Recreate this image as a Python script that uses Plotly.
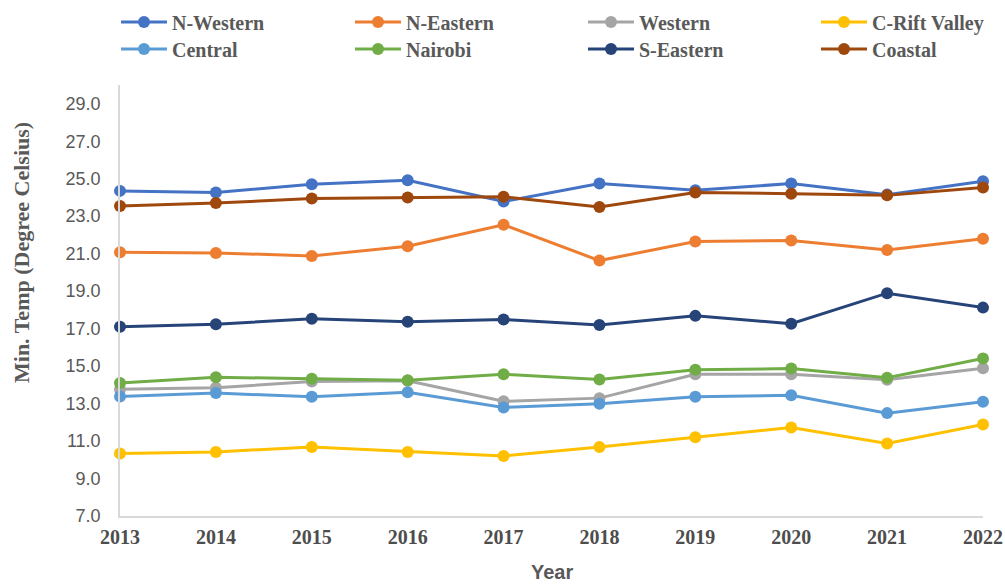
import plotly.graph_objects as go

years = [2013, 2014, 2015, 2016, 2017, 2018, 2019, 2020, 2021, 2022]

n_western = [24.35, 24.26, 24.70, 24.92, 23.78, 24.74, 24.38, 24.74, 24.15, 24.86]
n_eastern = [21.07, 21.04, 20.88, 21.40, 22.54, 20.63, 21.65, 21.70, 21.20, 21.79]
western = [13.76, 13.84, 14.18, 14.22, 13.12, 13.29, 14.56, 14.56, 14.27, 14.88]
c_rift_valley = [10.33, 10.42, 10.68, 10.42, 10.20, 10.68, 11.20, 11.72, 10.87, 11.88]
central = [13.38, 13.56, 13.36, 13.60, 12.79, 12.99, 13.36, 13.44, 12.49, 13.10]
nairobi = [14.10, 14.40, 14.33, 14.24, 14.57, 14.28, 14.80, 14.87, 14.38, 15.40]
s_eastern = [17.10, 17.23, 17.53, 17.37, 17.48, 17.19, 17.68, 17.26, 18.89, 18.12]
coastal = [23.54, 23.70, 23.94, 24.00, 24.04, 23.49, 24.26, 24.20, 24.11, 24.53]

y_ticks = [7, 9, 11, 13, 15, 17, 19, 21, 23, 25, 27, 29]

names = ["N-Western", "N-Eastern", "Western", "C-Rift Valley",
         "Central", "Nairobi", "S-Eastern", "Coastal"]
values = [n_western, n_eastern, western, c_rift_valley,
          central, nairobi, s_eastern, coastal]
colors = ["#4472C4", "#ED7D31", "#A5A5A5", "#FFC000",
          "#5B9BD5", "#70AD47", "#264478", "#9E480E"]

W, H = 1005, 584
L, R, T, B = 120, 22, 85, 68
plot_w = W - L - R
plot_h = H - T - B

# legend entries sit in a 4 x 2 grid above the plot (pixel positions)
col_px = [116, 350, 583, 816]
row_px = [22, 49]

legend_font = dict(family="Liberation Serif", size=20, color="#595959", weight="bold")

fig = go.Figure()
legends = {}

for i, (name, vals, color) in enumerate(zip(names, values, colors)):
    key = "legend" if i == 0 else f"legend{i + 1}"
    fig.add_trace(go.Scatter(
        x=years, y=vals,
        mode="lines+markers",
        name=name,
        legend=key,
        line=dict(color=color, width=3),
        marker=dict(color=color, size=12),
        cliponaxis=False,
    ))
    legends[key] = dict(
        orientation="h",
        x=(col_px[i % 4] - L) / plot_w, xanchor="left",
        y=(H - B - row_px[i // 4]) / plot_h, yanchor="middle",
        font=legend_font, itemwidth=46,
        bgcolor="rgba(0,0,0,0)", borderwidth=0,
    )

fig.update_layout(
    width=W, height=H,
    margin=dict(l=L, r=R, t=T, b=B, autoexpand=False),
    paper_bgcolor="white",
    plot_bgcolor="white",
    showlegend=True,
    xaxis=dict(
        range=[2013, 2022],
        tickvals=years,
        ticktext=[f"<b>{y}</b>" for y in years],
        showgrid=False,
        zeroline=False,
        automargin=False,
        showline=True, linecolor="#D9D9D9", linewidth=1.5,
        ticks="",
        ticklabelstandoff=2,
        tickfont=dict(family="Liberation Serif", size=20, color="#4D4D4D"),
    ),
    yaxis=dict(
        range=[7, 30],
        tickvals=y_ticks,
        tickformat=".1f",
        showgrid=False,
        zeroline=False,
        automargin=False,
        showline=True, linecolor="#D9D9D9", linewidth=1.5,
        ticks="",
        ticklabelstandoff=14,
        tickfont=dict(family="Liberation Sans", size=18, color="#595959"),
    ),
    annotations=[
        dict(text="<b>Min. Temp (Degree Celsius)</b>", textangle=-90,
             xref="paper", yref="paper", x=(21 - L) / plot_w, y=(H - B - 253) / plot_h,
             xanchor="center", yanchor="middle", showarrow=False,
             font=dict(family="Liberation Serif", size=22, color="#595959")),
        dict(text="<b>Year</b>",
             xref="paper", yref="paper", x=0.5, y=-(572 - (H - B)) / plot_h,
             xanchor="center", yanchor="middle", showarrow=False,
             font=dict(family="Liberation Sans Narrow, Liberation Sans", size=20, color="#595959")),
    ],
    **legends,
)

# the page's default body margin would push the figure 8px right and down
fig.write_html("out.html", config={"displayModeBar": False},
               post_script="document.body.style.margin = '0';")
